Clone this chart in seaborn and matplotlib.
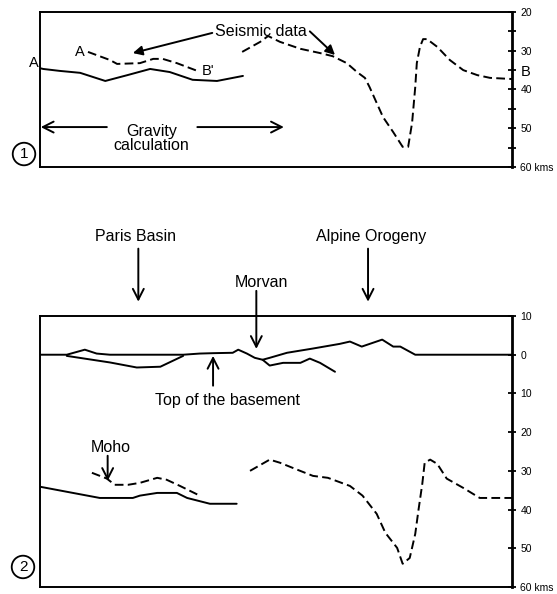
import pandas as pd
import matplotlib.pyplot as plt
import seaborn as sns

# ---- data: distance along profile (km), depth (km) ----
# panel 1: Moho from gravity vs. seismic data
grav1_km = [0, 4, 25, 51, 83, 111, 140, 165, 194, 225, 258]
grav1_depth = [34.5, 34.7, 35.2, 35.7, 37.8, 36.3, 34.7, 35.5, 37.5, 37.8, 36.5]

seisAB_km = [61, 89, 98, 127, 144, 156, 174, 200]
seisAB_depth = [30.3, 32.4, 33.4, 33.2, 32.1, 32.1, 33.2, 35.2]

seisB_km = [257, 280, 290, 305, 331, 356, 372, 390, 403, 413, 419, 436, 449, 461,
            468, 473, 477, 479, 483, 487, 492, 505, 521, 538, 556, 572, 600]
seisB_depth = [30.3, 27.7, 26.2, 27.7, 29.5, 30.6, 31.4, 33.2, 35.5, 37.0, 39.4, 47.1,
               51.0, 54.8, 54.8, 48.6, 39.4, 33.2, 29.0, 27.0, 27.0, 29.0, 32.4, 35.0,
               36.3, 37.0, 37.3]

# panel 2: topography, top of basement, Moho
topo_km = [0, 34, 57, 72, 89, 182, 203, 220, 245, 252, 263, 273, 283, 292, 314, 347,
           381, 394, 409, 435, 449, 458, 477, 600]
topo_depth = [0, 0, -1.3, -0.3, 0, 0, -0.3, -0.4, -0.5, -1.3, -0.3, 0.8, 1.3, 0.8,
              -0.5, -1.6, -2.8, -3.4, -2.1, -3.9, -2.1, -2.1, 0, 0]

base1_km = [34, 89, 123, 153, 182]
base1_depth = [0.3, 2.0, 3.3, 3.1, 0.3]
base2_km = [283, 292, 309, 331, 343, 356, 375]
base2_depth = [1.3, 2.8, 2.1, 2.1, 1.0, 2.1, 4.4]

moho_grav_km = [0, 34, 76, 118, 127, 149, 174, 187, 216, 250]
moho_grav_depth = [34.1, 35.4, 37.0, 37.0, 36.4, 35.7, 35.7, 37.0, 38.5, 38.5]

moho_w_km = [66, 85, 95, 112, 127, 149, 161, 178, 203]
moho_w_depth = [30.5, 32.0, 33.6, 33.6, 33.1, 31.8, 32.3, 33.9, 36.4]

moho_e_km = [267, 292, 305, 327, 347, 366, 394, 410, 428, 439, 454, 461, 470, 477,
             481, 486, 489, 496, 505, 517, 538, 559, 589, 600]
moho_e_depth = [30.0, 27.1, 27.9, 29.7, 31.3, 31.8, 33.9, 36.4, 41.1, 46.0, 49.9,
                54.0, 52.5, 46.3, 40.3, 33.3, 27.9, 27.1, 28.2, 32.0, 34.4, 37.0,
                37.0, 37.0]

ticks1 = [20, 25, 30, 35, 40, 45, 50, 55, 60]
labels1 = ["20", "", "30", "B", "40", "", "50", "", "60 kms"]
ticks2 = [-10, 0, 10, 20, 30, 40, 50, 60]
labels2 = ["10", "0", "10", "20", "30", "40", "50", "60 kms"]

sns.set_theme(style="white")
plt.rcParams["font.family"] = ["Liberation Sans", "DejaVu Sans"]
plt.rcParams["text.color"] = "black"

DASH = (0, (4.5, 2.2))


def draw(ax, km, depth, dashed=False, lw=1.4):
    df = pd.DataFrame({"km": km, "depth": depth})
    kw = {"linestyle": DASH} if dashed else {}
    sns.lineplot(data=df, x="km", y="depth", ax=ax, color="black", lw=lw,
                 sort=False, estimator=None, **kw)


def style_axis(ax, ylim, ticks, labels):
    ax.set_xlim(0, 600)
    ax.set_ylim(*ylim)
    ax.set_xticks([])
    ax.set_xlabel("")
    ax.set_ylabel("")
    ax.yaxis.tick_right()
    ax.set_yticks(ticks)
    ax.set_yticklabels(labels)
    ax.tick_params(axis="y", direction="inout", length=6, width=1.3, pad=3,
                   labelsize=7.5, colors="black", right=True, left=False)
    for side in ["left", "top", "bottom"]:
        ax.spines[side].set_linewidth(1.4)
        ax.spines[side].set_color("black")
    ax.spines["right"].set_linewidth(2.0)
    ax.spines["right"].set_color("black")


def arrow(ax, start, end, style="-|>"):
    if style == "->":
        style = "->,head_length=0.55,head_width=0.28"
    ax.annotate("", xy=end, xytext=start, annotation_clip=False,
                arrowprops=dict(arrowstyle=style, color="black", lw=1.4,
                                mutation_scale=14, shrinkA=0, shrinkB=0))


fig = plt.figure(figsize=(5.57, 5.94), dpi=100)
ax1 = fig.add_axes([0.0718, 0.7189, 0.8474, 0.2609])
ax2 = fig.add_axes([0.0718, 0.0118, 0.8474, 0.4562])

# ---- panel 1 ----
draw(ax1, grav1_km, grav1_depth)
draw(ax1, seisAB_km, seisAB_depth, dashed=True)
draw(ax1, seisB_km, seisB_depth, dashed=True)
style_axis(ax1, (60, 20), ticks1, labels1)
for t in ax1.get_yticklabels():
    if t.get_text() == "B":
        t.set_fontsize(10.5)

ax1.text(281, 25.0, "Seismic data", ha="center", va="center", fontsize=11.5)
arrow(ax1, (219, 25.4), (118, 30.6))
arrow(ax1, (343, 25.0), (375, 31.1))
ax1.text(51, 30.3, "A", ha="center", va="center", fontsize=10.5)
ax1.text(-8, 33.2, "A", ha="center", va="center", fontsize=10.5)
ax1.text(214, 35.2, "B'", ha="center", va="center", fontsize=10.5)
ax1.text(142, 52.6, "Gravity\ncalculation", ha="center", va="center",
         fontsize=11.5, linespacing=0.95)
arrow(ax1, (85, 49.7), (1, 49.7), "->")
arrow(ax1, (200, 49.7), (310, 49.7), "->")

# ---- panel 2 ----
draw(ax2, topo_km, topo_depth)
draw(ax2, base1_km, base1_depth)
draw(ax2, base2_km, base2_depth)
draw(ax2, moho_grav_km, moho_grav_depth)
draw(ax2, moho_w_km, moho_w_depth, dashed=True)
draw(ax2, moho_e_km, moho_e_depth, dashed=True)
style_axis(ax2, (60, -10), ticks2, labels2)

ax2.text(122, -30.5, "Paris Basin", ha="center", va="center", fontsize=11.5)
arrow(ax2, (125, -27.4), (125, -13.7), "->")
ax2.text(421, -30.5, "Alpine Orogeny", ha="center", va="center", fontsize=11.5)
arrow(ax2, (417, -27.4), (417, -13.7), "->")
ax2.text(282, -18.6, "Morvan", ha="center", va="center", fontsize=11.5)
arrow(ax2, (275, -16.5), (275, -1.5), "->")
ax2.text(238, 11.9, "Top of the basement", ha="center", va="center", fontsize=11.5)
arrow(ax2, (220, 8.0), (220, 0.3), "->")
ax2.text(90, 24.0, "Moho", ha="center", va="center", fontsize=11.5)
arrow(ax2, (86, 26.1), (86, 32.6), "->")

# circled panel numbers
for num, (fx, fy) in [("1", (0.0431, 0.7407)), ("2", (0.0413, 0.0455))]:
    fig.text(fx, fy, num, ha="center", va="center", fontsize=11,
             bbox=dict(boxstyle="circle,pad=0.28", fc="white", ec="black", lw=1.3))

fig.savefig("out.png", dpi=100)
